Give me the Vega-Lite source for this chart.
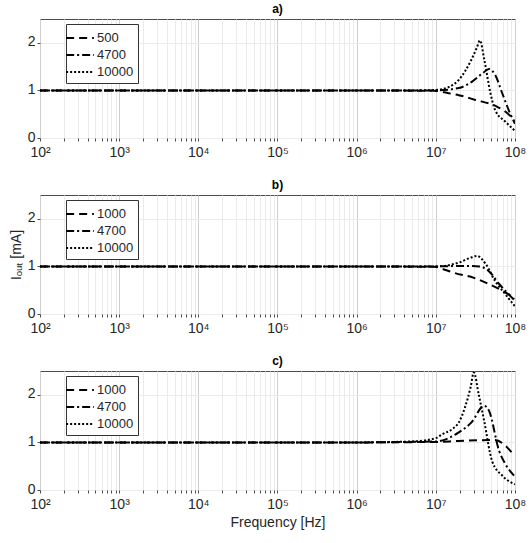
{
  "$schema": "https://vega.github.io/schema/vega-lite/v6.json",
  "padding": {"left": 8, "top": 2, "right": 0, "bottom": 2},
  "config": {
    "font": "Liberation Sans",
    "view": {"stroke": "#4d4d4d", "strokeWidth": 1},
    "axis": {
      "labelFontSize": 14,
      "labelColor": "#262626",
      "titleFontSize": 14,
      "titleColor": "#262626",
      "titleFontWeight": "normal",
      "domain": false,
      "tickColor": "#4d4d4d",
      "tickSize": 3,
      "labelFlush": false,
      "labelOverlap": false
    },
    "axisX": {"labelPadding": 4},
    "axisY": {"labelOffset": -1},
    "title": {"fontSize": 12, "fontWeight": "bold", "color": "#000000", "offset": 3},
    "legend": {
      "orient": "none",
      "legendX": 26,
      "legendY": 5,
      "title": null,
      "strokeColor": "#333333",
      "fillColor": "white",
      "padding": 4,
      "labelFontSize": 13,
      "labelColor": "#262626",
      "labelOffset": 7,
      "symbolType": "M-1.6,0H1.6",
      "symbolStrokeColor": "black",
      "symbolStrokeWidth": 2,
      "symbolSize": 300,
      "rowPadding": 0,
      "cornerRadius": 0
    },
    "line": {"color": "black", "strokeWidth": 2, "interpolate": "monotone"}
  },
  "datasets": {
    "curves": [
      {"panel": "a", "series": "500", "f": 100, "i": 1},
      {"panel": "a", "series": "500", "f": 1000000, "i": 1},
      {"panel": "a", "series": "500", "f": 10000000, "i": 0.99},
      {"panel": "a", "series": "500", "f": 14500000, "i": 0.94},
      {"panel": "a", "series": "500", "f": 19500000, "i": 0.9},
      {"panel": "a", "series": "500", "f": 31600000, "i": 0.8},
      {"panel": "a", "series": "500", "f": 59000000, "i": 0.66},
      {"panel": "a", "series": "500", "f": 76000000, "i": 0.55},
      {"panel": "a", "series": "500", "f": 100000000, "i": 0.37},
      {"panel": "a", "series": "4700", "f": 100, "i": 1},
      {"panel": "a", "series": "4700", "f": 1000000, "i": 1},
      {"panel": "a", "series": "4700", "f": 10000000, "i": 1.0},
      {"panel": "a", "series": "4700", "f": 19500000, "i": 1.05},
      {"panel": "a", "series": "4700", "f": 29000000, "i": 1.19},
      {"panel": "a", "series": "4700", "f": 39000000, "i": 1.36},
      {"panel": "a", "series": "4700", "f": 47000000, "i": 1.45},
      {"panel": "a", "series": "4700", "f": 56000000, "i": 1.33},
      {"panel": "a", "series": "4700", "f": 69000000, "i": 0.94},
      {"panel": "a", "series": "4700", "f": 85000000, "i": 0.55},
      {"panel": "a", "series": "4700", "f": 100000000, "i": 0.3},
      {"panel": "a", "series": "10000", "f": 100, "i": 1},
      {"panel": "a", "series": "10000", "f": 1000000, "i": 1},
      {"panel": "a", "series": "10000", "f": 5000000, "i": 1.0},
      {"panel": "a", "series": "10000", "f": 10000000, "i": 1.01},
      {"panel": "a", "series": "10000", "f": 14500000, "i": 1.07},
      {"panel": "a", "series": "10000", "f": 19500000, "i": 1.22},
      {"panel": "a", "series": "10000", "f": 28000000, "i": 1.64},
      {"panel": "a", "series": "10000", "f": 33000000, "i": 1.9},
      {"panel": "a", "series": "10000", "f": 36000000, "i": 2.05},
      {"panel": "a", "series": "10000", "f": 41000000, "i": 1.64},
      {"panel": "a", "series": "10000", "f": 49000000, "i": 0.94},
      {"panel": "a", "series": "10000", "f": 56000000, "i": 0.59},
      {"panel": "a", "series": "10000", "f": 76000000, "i": 0.34},
      {"panel": "a", "series": "10000", "f": 100000000, "i": 0.15},
      {"panel": "b", "series": "1000", "f": 100, "i": 1},
      {"panel": "b", "series": "1000", "f": 1000000, "i": 1},
      {"panel": "b", "series": "1000", "f": 10000000, "i": 0.99},
      {"panel": "b", "series": "1000", "f": 12000000, "i": 0.95},
      {"panel": "b", "series": "1000", "f": 17400000, "i": 0.86},
      {"panel": "b", "series": "1000", "f": 30200000, "i": 0.76},
      {"panel": "b", "series": "1000", "f": 46800000, "i": 0.63},
      {"panel": "b", "series": "1000", "f": 74100000, "i": 0.46},
      {"panel": "b", "series": "1000", "f": 100000000, "i": 0.33},
      {"panel": "b", "series": "4700", "f": 100, "i": 1},
      {"panel": "b", "series": "4700", "f": 1000000, "i": 1},
      {"panel": "b", "series": "4700", "f": 10000000, "i": 1.0},
      {"panel": "b", "series": "4700", "f": 20000000, "i": 1.01},
      {"panel": "b", "series": "4700", "f": 35500000, "i": 1.0},
      {"panel": "b", "series": "4700", "f": 46800000, "i": 0.9},
      {"panel": "b", "series": "4700", "f": 63100000, "i": 0.63},
      {"panel": "b", "series": "4700", "f": 100000000, "i": 0.28},
      {"panel": "b", "series": "10000", "f": 100, "i": 1},
      {"panel": "b", "series": "10000", "f": 1000000, "i": 1},
      {"panel": "b", "series": "10000", "f": 10000000, "i": 1.0},
      {"panel": "b", "series": "10000", "f": 19500000, "i": 1.08},
      {"panel": "b", "series": "10000", "f": 26300000, "i": 1.17},
      {"panel": "b", "series": "10000", "f": 33100000, "i": 1.22},
      {"panel": "b", "series": "10000", "f": 42700000, "i": 1.05},
      {"panel": "b", "series": "10000", "f": 56200000, "i": 0.69},
      {"panel": "b", "series": "10000", "f": 75900000, "i": 0.41},
      {"panel": "b", "series": "10000", "f": 100000000, "i": 0.16},
      {"panel": "c", "series": "1000", "f": 100, "i": 1},
      {"panel": "c", "series": "1000", "f": 1000000, "i": 1},
      {"panel": "c", "series": "1000", "f": 10000000, "i": 1.01},
      {"panel": "c", "series": "1000", "f": 19500000, "i": 1.03},
      {"panel": "c", "series": "1000", "f": 56200000, "i": 1.05},
      {"panel": "c", "series": "1000", "f": 75900000, "i": 0.93},
      {"panel": "c", "series": "1000", "f": 91200000, "i": 0.79},
      {"panel": "c", "series": "1000", "f": 100000000, "i": 0.72},
      {"panel": "c", "series": "4700", "f": 100, "i": 1},
      {"panel": "c", "series": "4700", "f": 1000000, "i": 1},
      {"panel": "c", "series": "4700", "f": 10000000, "i": 1.02},
      {"panel": "c", "series": "4700", "f": 19500000, "i": 1.21},
      {"panel": "c", "series": "4700", "f": 28200000, "i": 1.42},
      {"panel": "c", "series": "4700", "f": 40700000, "i": 1.77},
      {"panel": "c", "series": "4700", "f": 46800000, "i": 1.67},
      {"panel": "c", "series": "4700", "f": 63100000, "i": 0.82},
      {"panel": "c", "series": "4700", "f": 75900000, "i": 0.54},
      {"panel": "c", "series": "4700", "f": 100000000, "i": 0.28},
      {"panel": "c", "series": "10000", "f": 100, "i": 1},
      {"panel": "c", "series": "10000", "f": 1000000, "i": 1},
      {"panel": "c", "series": "10000", "f": 5000000, "i": 1.02},
      {"panel": "c", "series": "10000", "f": 10000000, "i": 1.09},
      {"panel": "c", "series": "10000", "f": 12000000, "i": 1.17},
      {"panel": "c", "series": "10000", "f": 16200000, "i": 1.28},
      {"panel": "c", "series": "10000", "f": 19500000, "i": 1.42},
      {"panel": "c", "series": "10000", "f": 23400000, "i": 1.74},
      {"panel": "c", "series": "10000", "f": 27500000, "i": 2.16},
      {"panel": "c", "series": "10000", "f": 30200000, "i": 2.47},
      {"panel": "c", "series": "10000", "f": 34700000, "i": 2.02},
      {"panel": "c", "series": "10000", "f": 40700000, "i": 1.46},
      {"panel": "c", "series": "10000", "f": 51300000, "i": 0.61},
      {"panel": "c", "series": "10000", "f": 69200000, "i": 0.3},
      {"panel": "c", "series": "10000", "f": 100000000, "i": 0.12}
    ]
  },
  "spacing": 18,
  "resolve": {"scale": {"strokeDash": "independent"}},
  "vconcat": [
    {
      "title": "a)",
      "width": 475,
      "height": 119,
      "data": {"name": "curves"},
      "transform": [{"filter": "datum.panel == 'a'"}],
      "mark": {"type": "line", "clip": true},
      "encoding": {
        "x": {
          "field": "f", "type": "quantitative",
          "scale": {"type": "log", "domain": [100, 100000000]},
          "axis": {
            "title": null,
            "values": [100,200,300,400,500,600,700,800,900,1000,2000,3000,4000,5000,6000,7000,8000,9000,10000,20000,30000,40000,50000,60000,70000,80000,90000,100000,200000,300000,400000,500000,600000,700000,800000,900000,1000000,2000000,3000000,4000000,5000000,6000000,7000000,8000000,9000000,10000000,20000000,30000000,40000000,50000000,60000000,70000000,80000000,90000000,100000000],
            "labelExpr": "abs(log(datum.value)/LN10 - round(log(datum.value)/LN10)) < 0.001 ? '10' + ['','','²','³','⁴','⁵','⁶','⁷','⁸'][round(log(datum.value)/LN10)] : ''",
            "gridColor": {"condition": {"test": "abs(log(datum.value)/LN10 - round(log(datum.value)/LN10)) < 0.001", "value": "#cfcfcf"}, "value": "#ebebeb"}
          }
        },
        "y": {
          "field": "i", "type": "quantitative",
          "scale": {"domain": [0, 2.5], "nice": false},
          "axis": {"values": [0, 1, 2], "title": "Iₒᵤₜ [mA]", "titleOpacity": 0, "gridColor": "#ebebeb"}
        },
        "strokeDash": {
          "field": "series", "type": "nominal",
          "scale": {"domain": ["500", "4700", "10000"], "range": [[8, 5], [8, 3, 2, 3], [2, 2]]}
        }
      }
    },
    {
      "title": "b)",
      "width": 475,
      "height": 119,
      "data": {"name": "curves"},
      "transform": [{"filter": "datum.panel == 'b'"}],
      "mark": {"type": "line", "clip": true},
      "encoding": {
        "x": {
          "field": "f", "type": "quantitative",
          "scale": {"type": "log", "domain": [100, 100000000]},
          "axis": {
            "title": null,
            "values": [100,200,300,400,500,600,700,800,900,1000,2000,3000,4000,5000,6000,7000,8000,9000,10000,20000,30000,40000,50000,60000,70000,80000,90000,100000,200000,300000,400000,500000,600000,700000,800000,900000,1000000,2000000,3000000,4000000,5000000,6000000,7000000,8000000,9000000,10000000,20000000,30000000,40000000,50000000,60000000,70000000,80000000,90000000,100000000],
            "labelExpr": "abs(log(datum.value)/LN10 - round(log(datum.value)/LN10)) < 0.001 ? '10' + ['','','²','³','⁴','⁵','⁶','⁷','⁸'][round(log(datum.value)/LN10)] : ''",
            "gridColor": {"condition": {"test": "abs(log(datum.value)/LN10 - round(log(datum.value)/LN10)) < 0.001", "value": "#cfcfcf"}, "value": "#ebebeb"}
          }
        },
        "y": {
          "field": "i", "type": "quantitative",
          "scale": {"domain": [0, 2.5], "nice": false},
          "axis": {"values": [0, 1, 2], "title": "Iₒᵤₜ [mA]", "gridColor": "#ebebeb"}
        },
        "strokeDash": {
          "field": "series", "type": "nominal",
          "scale": {"domain": ["1000", "4700", "10000"], "range": [[8, 5], [8, 3, 2, 3], [2, 2]]}
        }
      }
    },
    {
      "title": "c)",
      "width": 475,
      "height": 119,
      "data": {"name": "curves"},
      "transform": [{"filter": "datum.panel == 'c'"}],
      "mark": {"type": "line", "clip": true},
      "encoding": {
        "x": {
          "field": "f", "type": "quantitative",
          "scale": {"type": "log", "domain": [100, 100000000]},
          "axis": {
            "title": "Frequency [Hz]",
            "values": [100,200,300,400,500,600,700,800,900,1000,2000,3000,4000,5000,6000,7000,8000,9000,10000,20000,30000,40000,50000,60000,70000,80000,90000,100000,200000,300000,400000,500000,600000,700000,800000,900000,1000000,2000000,3000000,4000000,5000000,6000000,7000000,8000000,9000000,10000000,20000000,30000000,40000000,50000000,60000000,70000000,80000000,90000000,100000000],
            "labelExpr": "abs(log(datum.value)/LN10 - round(log(datum.value)/LN10)) < 0.001 ? '10' + ['','','²','³','⁴','⁵','⁶','⁷','⁸'][round(log(datum.value)/LN10)] : ''",
            "gridColor": {"condition": {"test": "abs(log(datum.value)/LN10 - round(log(datum.value)/LN10)) < 0.001", "value": "#cfcfcf"}, "value": "#ebebeb"}
          }
        },
        "y": {
          "field": "i", "type": "quantitative",
          "scale": {"domain": [0, 2.5], "nice": false},
          "axis": {"values": [0, 1, 2], "title": "Iₒᵤₜ [mA]", "titleOpacity": 0, "gridColor": "#ebebeb"}
        },
        "strokeDash": {
          "field": "series", "type": "nominal",
          "scale": {"domain": ["1000", "4700", "10000"], "range": [[8, 5], [8, 3, 2, 3], [2, 2]]}
        }
      }
    }
  ]
}
